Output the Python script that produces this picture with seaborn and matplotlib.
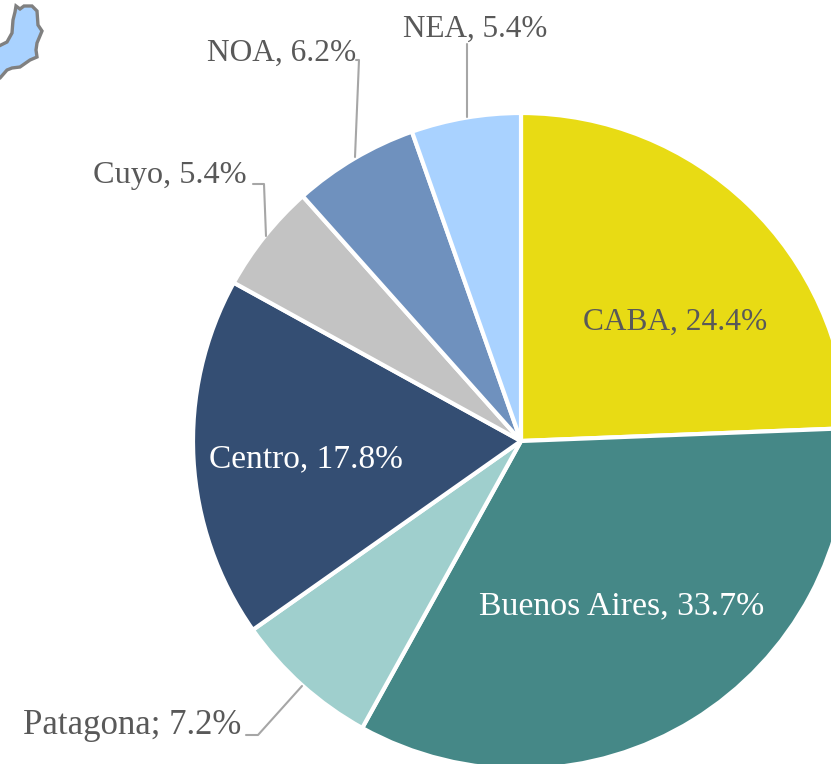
import matplotlib.pyplot as plt
import seaborn as sns

regions = ['CABA', 'Buenos Aires', 'Patagona', 'Centro', 'Cuyo', 'NOA', 'NEA']
shares = [24.4, 33.7, 7.2, 17.8, 5.4, 6.2, 5.4]
separators = [', ', ', ', '; ', ', ', ', ', ', ', ', ']
colors = ['#E8DB14', '#458887', '#9FCFCD', '#344E73', '#C3C3C3', '#6F91BE', '#A9D2FF']

# label placement in image pixels (y from the top)
label_pos = [(675, 322), (622, 606), (132, 726), (306, 459), (170, 176), (282, 53), (475, 29)]
label_colors = ['#595959', 'white', '#595959', 'white', '#595959', '#595959', '#595959']
# original has stretched letter spacing on some labels, bigger size gets close to the same width
label_sizes = [22.6, 24.4, 25, 24, 23.2, 22.6, 22.4]
leaders = {
    'Patagona': [(246, 735), (258, 735), (302, 686)],
    'Cuyo': [(253, 184), (264, 184), (266, 236)],
    'NOA': [(356, 60), (359, 60), (355, 157)],
    'NEA': [(467, 44), (467, 117)],
}

# bit of the map that sticks in at the top left corner
island = [(16, 6), (20, 9), (24, 6), (32, 6), (37, 11), (38, 25), (42, 31), (37, 43),
          (36, 50), (37, 57), (30, 60), (20, 67), (12, 68), (7, 70), (0, 78), (-3, 78),
          (-3, 47), (7, 42), (12, 33), (13, 20), (15, 12)]

sns.set_theme(style='white')
plt.rcParams['font.family'] = ['Liberation Serif', 'DejaVu Serif']

W, H = 831, 764
fig = plt.figure(figsize=(W / 100, H / 100), dpi=100)
ax = fig.add_axes([0, 0, 1, 1])

ax.pie(shares, colors=sns.color_palette(colors), startangle=90, counterclock=False,
       center=(521, H - 441), radius=328, frame=True,
       wedgeprops={'edgecolor': 'white', 'linewidth': 3})

ax.set_xlim(0, W)
ax.set_ylim(0, H)
ax.set_aspect('equal')
ax.axis('off')

ax.fill([p[0] for p in island], [H - p[1] for p in island], facecolor='#A9D2FF',
        edgecolor='#808080', linewidth=2.4)

for name, pts in leaders.items():
    ax.plot([p[0] for p in pts], [H - p[1] for p in pts], color='#A6A6A6', linewidth=1.5)

for name, share, sep, pos, col, size in zip(regions, shares, separators, label_pos, label_colors, label_sizes):
    ax.text(pos[0], H - pos[1], f'{name}{sep}{share}%', color=col, fontsize=size,
            ha='center', va='center')

fig.savefig('out.png', dpi=100)
